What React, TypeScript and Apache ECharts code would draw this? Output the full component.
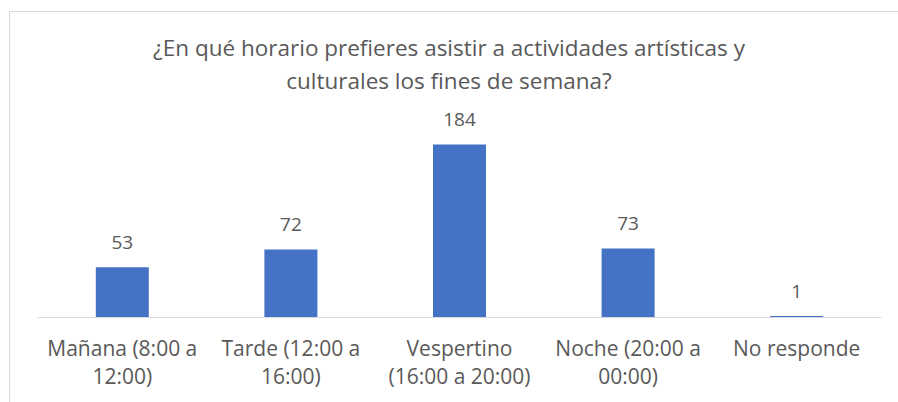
import React, { useEffect, useRef } from "react";
import * as echarts from "echarts";

const titleText = "¿En qué horario prefieres asistir a actividades artísticas y\nculturales los fines de semana?";
const categories = [
  "Mañana (8:00 a\n12:00)",
  "Tarde (12:00 a\n16:00)",
  "Vespertino\n(16:00 a 20:00)",
  "Noche (20:00 a\n00:00)",
  "No responde",
];
const values = [53, 72, 184, 73, 1];

const FONT = "'Open Sans', sans-serif";
const TEXT = "#595959";

export default function App() {
  const ref = useRef<HTMLDivElement>(null);
  useEffect(() => {
    if (!ref.current) return;
    const chart = echarts.init(ref.current, undefined, { renderer: "svg" });
    chart.setOption({
      animation: false,
      backgroundColor: "#ffffff",
      textStyle: { fontFamily: FONT },
      title: {
        text: titleText,
        left: "center",
        top: 26,
        textStyle: {
          fontFamily: FONT,
          fontSize: 22.5,
          fontWeight: "normal",
          color: TEXT,
          lineHeight: 33,
        },
      },
      graphic: [
        {
          type: "rect",
          shape: { x: 9.5, y: 11.5, width: 900, height: 400 },
          style: { fill: "none", stroke: "#D9D9D9", lineWidth: 1 },
          silent: true,
        },
      ],
      grid: { left: 38, right: 17, top: 129.5, bottom: 85 },
      xAxis: {
        type: "category",
        data: categories,
        axisLine: { lineStyle: { color: "#D9D9D9", width: 1 } },
        axisTick: { show: false },
        axisLabel: {
          interval: 0,
          color: TEXT,
          fontFamily: FONT,
          fontSize: 21,
          lineHeight: 28,
          margin: 17,
        },
      },
      yAxis: {
        type: "value",
        min: 0,
        max: 200,
        show: false,
        splitLine: { show: false },
      },
      series: [
        {
          type: "bar",
          data: values,
          barWidth: 53,
          itemStyle: { color: "#4472C4" },
          label: {
            show: true,
            position: "top",
            distance: 16,
            color: TEXT,
            fontFamily: FONT,
            fontSize: 19,
            lineHeight: 19,
          },
        },
      ],
    });
    return () => chart.dispose();
  }, []);
  return (
    <div
      ref={ref}
      style={{ position: "fixed", left: 0, top: 0, width: 898, height: 402 }}
    />
  );
}
